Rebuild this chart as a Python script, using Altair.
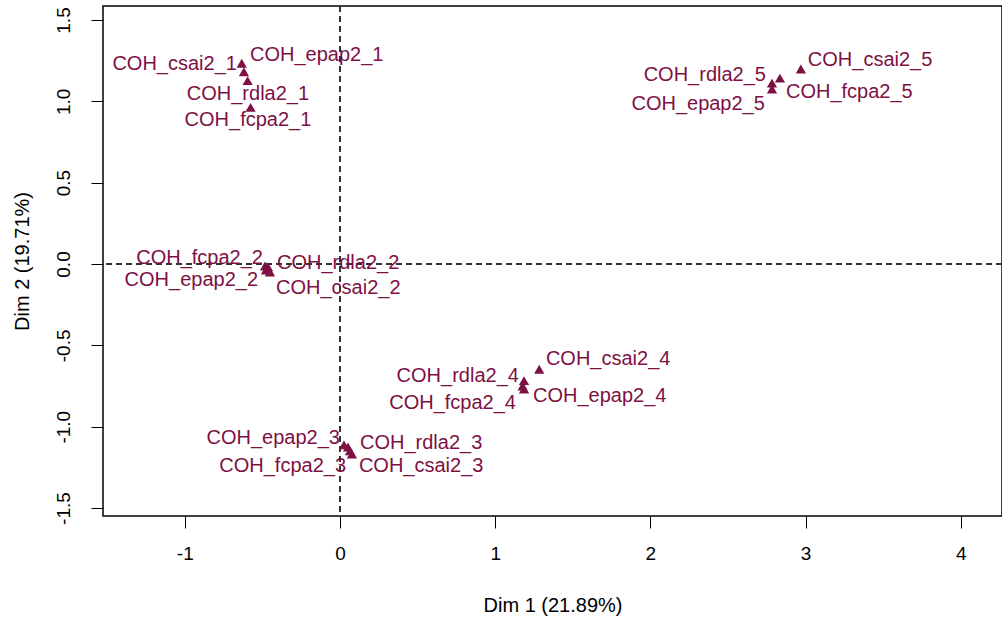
import altair as alt
import pandas as pd

labels = [
    "COH_csai2_1", "COH_epap2_1", "COH_rdla2_1", "COH_fcpa2_1",
    "COH_csai2_5", "COH_fcpa2_5", "COH_rdla2_5", "COH_epap2_5",
    "COH_fcpa2_2", "COH_rdla2_2", "COH_epap2_2", "COH_csai2_2",
    "COH_csai2_4", "COH_rdla2_4", "COH_fcpa2_4", "COH_epap2_4",
    "COH_epap2_3", "COH_rdla2_3", "COH_fcpa2_3", "COH_csai2_3",
]
dim1 = [
    -0.633, -0.619, -0.595, -0.576,
    2.970, 2.835, 2.784, 2.784,
    -0.483, -0.464, -0.477, -0.451,
    1.284, 1.186, 1.177, 1.186,
    0.026, 0.052, 0.064, 0.077,
]
dim2 = [
    1.234, 1.182, 1.127, 0.963,
    1.199, 1.143, 1.112, 1.076,
    -0.012, -0.018, -0.037, -0.049,
    -0.647, -0.717, -0.750, -0.768,
    -1.112, -1.125, -1.149, -1.168,
]
# label anchor positions (data units) and alignment
label_x = [
    -0.664, -0.580, -0.593, -0.593,
    3.015, 2.874, 2.745, 2.738,
    -0.496, -0.406, -0.528, -0.412,
    1.327, 1.153, 1.134, 1.244,
    0.000, 0.129, 0.039, 0.122,
]
label_y = [
    1.229, 1.285, 1.045, 0.885,
    1.254, 1.057, 1.162, 0.983,
    0.037, 0.006, -0.098, -0.148,
    -0.584, -0.688, -0.854, -0.811,
    -1.069, -1.100, -1.240, -1.240,
]
label_align = [
    "right", "left", "center", "center",
    "left", "left", "right", "right",
    "right", "left", "right", "left",
    "left", "right", "right", "left",
    "right", "left", "right", "left",
]
x_ticks = [-1, 0, 1, 2, 3, 4]
y_ticks = [-1.5, -1.0, -0.5, 0.0, 0.5, 1.0, 1.5]

df = pd.DataFrame({"label": labels, "d1": dim1, "d2": dim2,
                   "lx": label_x, "ly": label_y, "al": label_align})

COL = "#7E1043"
FONT = "Liberation Sans"
xscale = alt.Scale(domain=[-1.527, 4.266], nice=False, zero=False)
yscale = alt.Scale(domain=[-1.549, 1.586], nice=False, zero=False)

xaxis = alt.Axis(values=x_ticks, format="d", grid=False, domain=False,
                 labelExpr="replace(datum.label, '\u2212', '-')",
                 tickSize=12, tickColor="black", labelPadding=16,
                 labelFont=FONT, labelFontSize=19, labelColor="black",
                 title="Dim 1 (21.89%)", titleFont=FONT, titleFontSize=20,
                 titleFontWeight="normal", titleColor="black", titlePadding=32)
yaxis = alt.Axis(values=y_ticks, format=".1f", grid=False, domain=False,
                 labelExpr="replace(datum.label, '\u2212', '-')",
                 tickSize=12, tickColor="black", labelPadding=18,
                 labelAngle=270, labelAlign="center", labelBaseline="bottom",
                 labelFont=FONT, labelFontSize=19, labelColor="black",
                 title="Dim 2 (19.71%)", titleFont=FONT, titleFontSize=20,
                 titleFontWeight="normal", titleColor="black", titlePadding=22)

base = alt.Chart(df)

vline = base.mark_rule(color="#333333", strokeDash=[6, 4], strokeWidth=1.2).encode(
    x=alt.datum(0, scale=xscale, axis=xaxis, type="quantitative"))
hline = base.mark_rule(color="#333333", strokeDash=[6, 4], strokeWidth=1.2).encode(
    y=alt.datum(0, scale=yscale, axis=yaxis, type="quantitative"))

points = base.mark_point(shape="triangle-up", filled=True, size=105, opacity=1,
                         color=COL).encode(
    x=alt.X("d1:Q", scale=xscale, axis=xaxis),
    y=alt.Y("d2:Q", scale=yscale, axis=yaxis),
)

texts = []
for a in ["left", "right", "center"]:
    texts.append(
        base.transform_filter(alt.datum.al == a).mark_text(
            align=a, baseline="middle", font=FONT, fontSize=20, color=COL
        ).encode(
            x=alt.X("lx:Q", scale=xscale, axis=xaxis),
            y=alt.Y("ly:Q", scale=yscale, axis=yaxis),
            text="label:N",
        )
    )

chart = alt.layer(vline, hline, points, *texts).properties(
    width=899, height=510,
    padding={"left": 103, "top": 6, "right": 0, "bottom": 107},
    autosize=alt.AutoSizeParams(type="none"),
    background="white",
).configure_view(stroke="black", strokeWidth=1.5)

chart.save("out.html", embed_options={"renderer": "svg", "actions": False})
